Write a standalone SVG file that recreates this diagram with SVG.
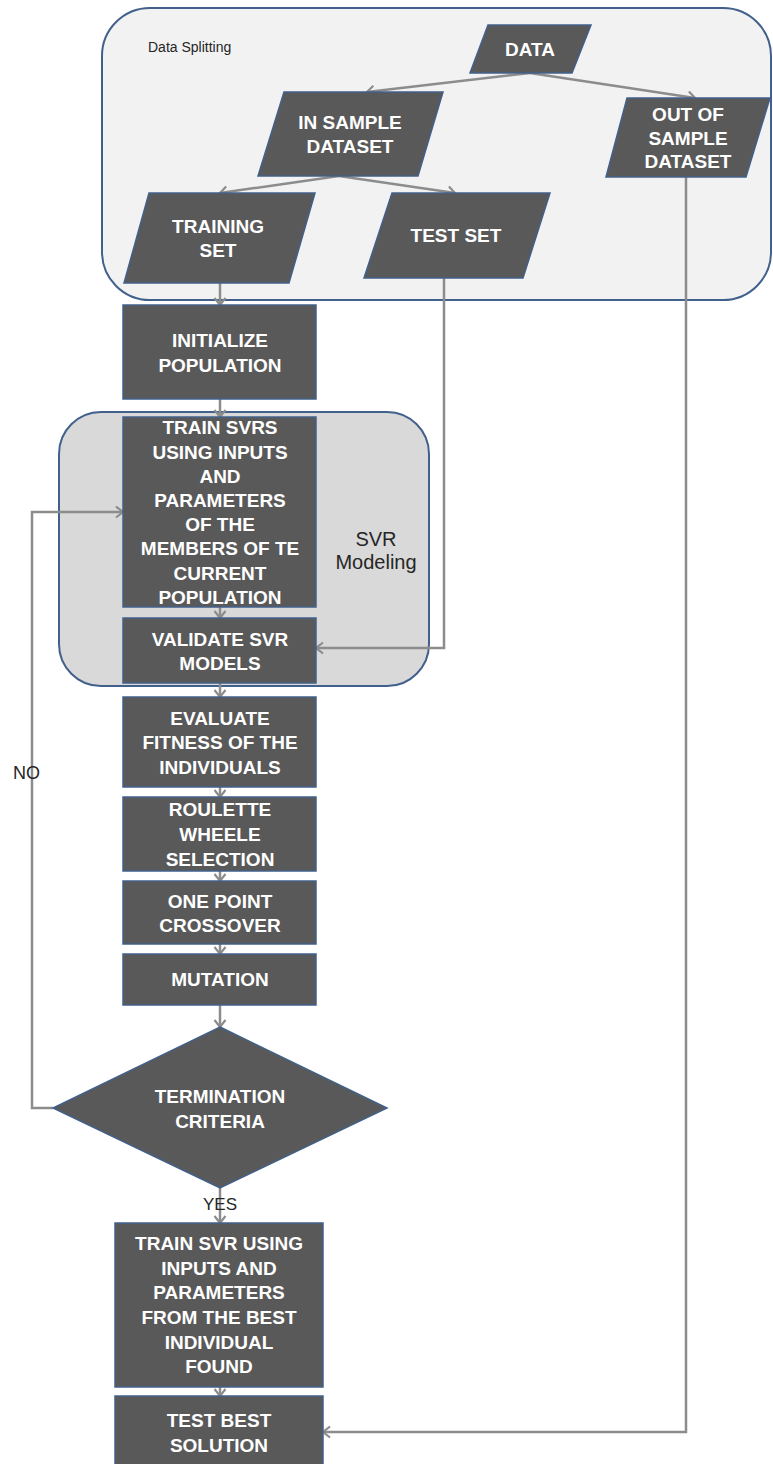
<svg xmlns="http://www.w3.org/2000/svg" width="773" height="1464" viewBox="0 0 773 1464">
<style>
.node{fill:#595959;stroke:#41608c;stroke-width:1.5}
.t{fill:#ffffff;font-family:"Liberation Sans",Arial,sans-serif;font-size:19px;font-weight:bold;text-anchor:middle;dominant-baseline:central}
.lbl{fill:#262626;font-family:"Liberation Sans",Arial,sans-serif;dominant-baseline:central}
.c{fill:none;stroke:#8c8c8c;stroke-width:2.5;marker-end:url(#ah)}
</style>
<defs>
<marker id="ah" markerUnits="userSpaceOnUse" markerWidth="14" markerHeight="14" viewBox="-8 -7 10 14" refX="0" refY="0" orient="auto">
<path d="M-7,-5.5 L0,0 L-7,5.5" fill="none" stroke="#8c8c8c" stroke-width="2.2"/>
</marker>
</defs>
<rect width="773" height="1464" fill="#ffffff"/>
<g id="container-data-splitting">
<rect x="102" y="8" width="669" height="292" rx="48" ry="48" fill="#f2f2f2" stroke="#41608c" stroke-width="2"/>
<text class="lbl" x="148" y="47" style="font-size:14px">Data Splitting</text>
</g>
<g id="container-svr-modeling">
<rect x="59" y="412" width="370" height="274" rx="42" ry="42" fill="#d9d9d9" stroke="#41608c" stroke-width="2"/>
<text class="lbl" x="376" y="539" text-anchor="middle" style="font-size:20px">SVR</text>
<text class="lbl" x="376" y="562" text-anchor="middle" style="font-size:20px">Modeling</text>
</g>
<g id="connectors">
<line class="c" x1="530" y1="73" x2="367" y2="92"/>
<line class="c" x1="530" y1="73" x2="695" y2="98"/>
<line class="c" x1="339" y1="176" x2="220" y2="193"/>
<line class="c" x1="339" y1="176" x2="455" y2="193"/>
<line class="c" x1="220" y1="283" x2="220" y2="305"/>
<line class="c" x1="220" y1="399" x2="220" y2="417"/>
<line class="c" x1="220" y1="607" x2="220" y2="618"/>
<line class="c" x1="220" y1="683" x2="220" y2="697"/>
<line class="c" x1="220" y1="787" x2="220" y2="797"/>
<line class="c" x1="220" y1="871" x2="220" y2="881"/>
<line class="c" x1="220" y1="944" x2="220" y2="954"/>
<line class="c" x1="220" y1="1005" x2="220" y2="1027"/>
<line class="c" x1="220" y1="1188" x2="220" y2="1223"/>
<line class="c" x1="220" y1="1387" x2="220" y2="1396"/>
<polyline class="c" points="444,278 444,648 316,648"/>
<polyline class="c" points="686,177 686,1432 323,1432"/>
<polyline class="c" points="53,1108 32,1108 32,512 123,512"/>
<text class="lbl" x="13" y="773" style="font-size:18px">NO</text>
<text class="lbl" x="203" y="1204" style="font-size:17px">YES</text>
</g>
<g id="node-data">
<polygon class="node" points="488,25 591,25 572,73 470,73"/>
<text class="t" x="530" y="49">DATA</text>
</g>
<g id="node-in-sample">
<polygon class="node" points="284,92 443,92 418,176 258,176"/>
<text class="t" x="350" y="122">IN SAMPLE</text>
<text class="t" x="350" y="146">DATASET</text>
</g>
<g id="node-out-of-sample">
<polygon class="node" points="627,98 770,98 746,177 606,177"/>
<text class="t" x="688" y="114">OUT OF</text>
<text class="t" x="688" y="138">SAMPLE</text>
<text class="t" x="688" y="161">DATASET</text>
</g>
<g id="node-training-set">
<polygon class="node" points="149,193 315,193 289,283 124,283"/>
<text class="t" x="218" y="226">TRAINING</text>
<text class="t" x="218" y="250">SET</text>
</g>
<g id="node-test-set">
<polygon class="node" points="392,193 550,193 523,278 364,278"/>
<text class="t" x="456" y="235">TEST SET</text>
</g>
<g id="node-initialize">
<rect class="node" x="123" y="305" width="193" height="94"/>
<text class="t" x="220" y="340">INITIALIZE</text>
<text class="t" x="220" y="365">POPULATION</text>
</g>
<g id="node-train-svrs">
<rect class="node" x="123" y="417" width="193" height="190"/>
<text class="t" x="220" y="427">TRAIN SVRS</text>
<text class="t" x="220" y="452">USING INPUTS</text>
<text class="t" x="220" y="476">AND</text>
<text class="t" x="220" y="500">PARAMETERS</text>
<text class="t" x="220" y="524">OF THE</text>
<text class="t" x="220" y="548">MEMBERS OF TE</text>
<text class="t" x="220" y="573">CURRENT</text>
<text class="t" x="220" y="597">POPULATION</text>
</g>
<g id="node-validate">
<rect class="node" x="123" y="618" width="193" height="65"/>
<text class="t" x="220" y="639">VALIDATE SVR</text>
<text class="t" x="220" y="663">MODELS</text>
</g>
<g id="node-evaluate">
<rect class="node" x="123" y="697" width="193" height="90"/>
<text class="t" x="220" y="718">EVALUATE</text>
<text class="t" x="220" y="742">FITNESS OF THE</text>
<text class="t" x="220" y="767">INDIVIDUALS</text>
</g>
<g id="node-roulette">
<rect class="node" x="123" y="797" width="193" height="74"/>
<text class="t" x="220" y="809">ROULETTE</text>
<text class="t" x="220" y="834">WHEELE</text>
<text class="t" x="220" y="859">SELECTION</text>
</g>
<g id="node-crossover">
<rect class="node" x="123" y="881" width="193" height="63"/>
<text class="t" x="220" y="901">ONE POINT</text>
<text class="t" x="220" y="925">CROSSOVER</text>
</g>
<g id="node-mutation">
<rect class="node" x="123" y="954" width="193" height="51"/>
<text class="t" x="220" y="979">MUTATION</text>
</g>
<g id="node-termination">
<polygon class="node" points="220,1027 387,1108 220,1188 53,1108"/>
<text class="t" x="220" y="1096">TERMINATION</text>
<text class="t" x="220" y="1121">CRITERIA</text>
</g>
<g id="node-train-best">
<rect class="node" x="115" y="1223" width="208" height="164"/>
<text class="t" x="219" y="1243">TRAIN SVR USING</text>
<text class="t" x="219" y="1268">INPUTS AND</text>
<text class="t" x="219" y="1292">PARAMETERS</text>
<text class="t" x="219" y="1317">FROM THE BEST</text>
<text class="t" x="219" y="1342">INDIVIDUAL</text>
<text class="t" x="219" y="1366">FOUND</text>
</g>
<g id="node-test-best">
<rect class="node" x="115" y="1396" width="208" height="72"/>
<text class="t" x="219" y="1420">TEST BEST</text>
<text class="t" x="219" y="1445">SOLUTION</text>
</g>
</svg>
